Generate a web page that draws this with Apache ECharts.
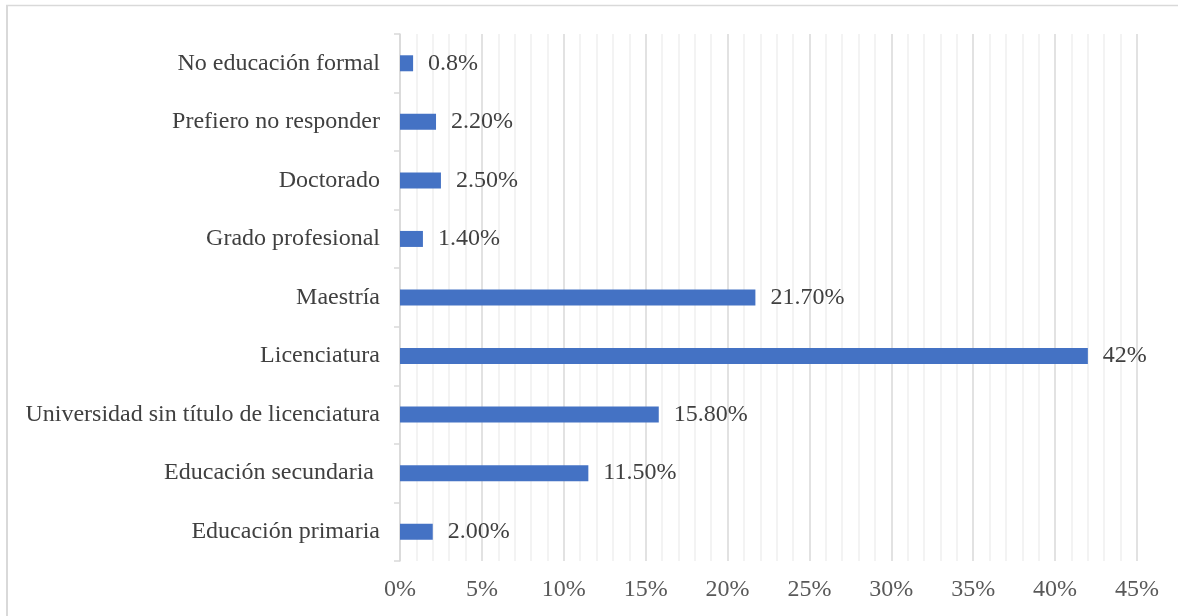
<!DOCTYPE html>
<html>
<head>
<meta charset="utf-8">
<script src="https://cdn.jsdelivr.net/npm/echarts@6/dist/echarts.min.js"></script>
<style>
  html, body { margin: 0; padding: 0; background: #fff; }
  #chart { width: 1178px; height: 616px; }
</style>
</head>
<body>
<div id="chart"></div>
<script>
// Education level, listed bottom to top
const categories = [
  'Educación primaria',
  'Educación secundaria ',
  'Universidad sin título de licenciatura',
  'Licenciatura',
  'Maestría',
  'Grado profesional',
  'Doctorado',
  'Prefiero no responder',
  'No educación formal'
];
// Share of respondents (%)
const values = [2.0, 11.5, 15.8, 42, 21.7, 1.4, 2.5, 2.2, 0.8];
// Label text as printed next to each bar
const valueLabels = ['2.00%', '11.50%', '15.80%', '42%', '21.70%', '1.40%', '2.50%', '2.20%', '0.8%'];

const FONT = '"Liberation Serif", "Times New Roman", serif';
const chart = echarts.init(document.getElementById('chart'), null, { renderer: 'canvas' });

chart.setOption({
  animation: false,
  backgroundColor: '#ffffff',
  grid: { left: 400, right: 41, top: 34, bottom: 55, containLabel: false },
  xAxis: {
    type: 'value',
    min: 0,
    max: 45,
    interval: 5,
    axisLine: { show: false },
    axisTick: { show: false },
    axisLabel: {
      formatter: '{value}%',
      fontFamily: FONT,
      fontSize: 24,
      color: '#595959',
      margin: 17
    },
    splitLine: { show: true, lineStyle: { color: '#d9d9d9', width: 1.5 } },
    minorTick: { show: false, splitNumber: 5 },
    minorSplitLine: { show: true, lineStyle: { color: '#efefef', width: 1.5 } }
  },
  yAxis: {
    type: 'category',
    data: categories,
    axisLine: { show: true, lineStyle: { color: '#d9d9d9', width: 1.5 } },
    axisTick: { show: true, length: 6, lineStyle: { color: '#d9d9d9', width: 1.5 } },
    axisLabel: {
      fontFamily: FONT,
      fontSize: 24,
      color: '#404040',
      margin: 20,
      padding: [4, 0, 0, 0]
    },
    splitLine: { show: false }
  },
  series: [{
    type: 'bar',
    data: values,
    barWidth: 16,
    itemStyle: { color: '#4472C4' },
    label: {
      show: true,
      position: 'right',
      distance: 15,
      fontFamily: FONT,
      fontSize: 24,
      color: '#404040',
      padding: [4, 0, 0, 0],
      formatter: p => valueLabels[p.dataIndex]
    }
  }],
  graphic: [
    { type: 'line', shape: { x1: 6, y1: 5.5, x2: 1178, y2: 5.5 }, style: { stroke: '#d9d9d9', lineWidth: 1.5 } },
    { type: 'line', shape: { x1: 7, y1: 5, x2: 7, y2: 616 }, style: { stroke: '#d9d9d9', lineWidth: 2 } }
  ]
});
</script>
</body>
</html>
